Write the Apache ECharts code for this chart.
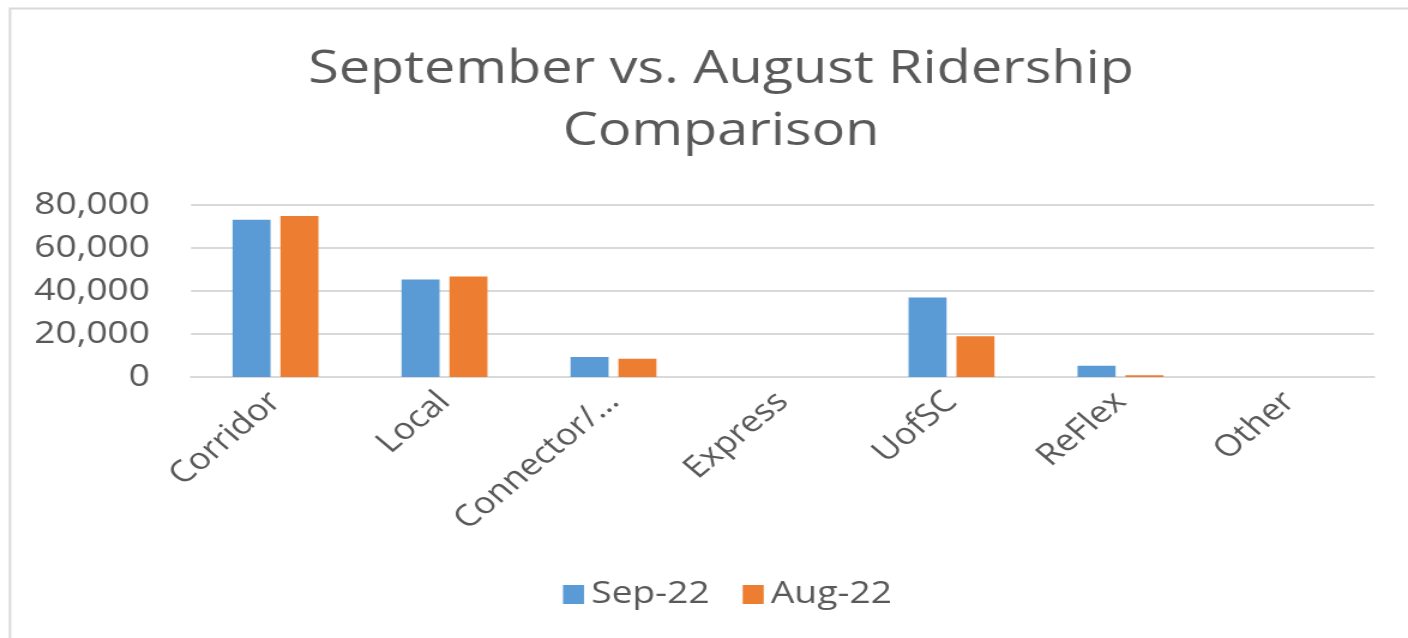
<!DOCTYPE html>
<html>
<head>
<meta charset="utf-8">
<script src="https://cdn.jsdelivr.net/npm/echarts@6/dist/echarts.min.js"></script>
<style>
html,body{margin:0;padding:0;background:#fff;overflow:hidden;}
#wrap{width:1408px;height:638px;overflow:hidden;}
#chart{width:1174px;height:638px;transform:scaleX(1.1993);transform-origin:0 0;}
</style>
</head>
<body>
<div id="wrap"><div id="chart"></div></div>
<script>
const categories = ['Corridor', 'Local', 'Connector/ Flex', 'Express', 'UofSC', 'ReFlex', 'Other'];
const sep22 = [73100, 45300, 9300, 0, 37000, 5200, 0];
const aug22 = [74900, 46700, 8500, 0, 19000, 800, 0];
const yTicks = [0, 20000, 40000, 60000, 80000];
const seriesNames = ['Sep-22', 'Aug-22'];
const titleText = 'September vs. August Ridership\nComparison';

const S = 1.1993; // horizontal stretch of the reference picture
const FONT = 'Open Sans';
const TXT = '#595959';
const chart = echarts.init(document.getElementById('chart'), null, {renderer: 'canvas', width: 1174, height: 638});
chart.setOption({
  animation: false,
  backgroundColor: '#ffffff',
  color: ['#5b9bd5', '#ed7d31'],
  graphic: [{
    type: 'rect', left: 7 / S, top: 6, silent: true,
    shape: {width: 1300, height: 700},
    style: {fill: 'none', stroke: '#d9d9d9', lineWidth: 2}
  }],
  title: {
    text: titleText,
    left: 715 / S, top: 34, textAlign: 'center',
    textStyle: {fontFamily: FONT, fontSize: 46.5, fontWeight: 'normal', color: TXT, lineHeight: 62}
  },
  legend: {
    data: seriesNames,
    left: 557 / S, top: 574,
    itemWidth: 21 / S, itemHeight: 19, itemGap: 33 / S,
    icon: 'rect',
    textStyle: {fontFamily: FONT, fontSize: 31, color: TXT, padding: [0, 0, 0, 1]}
  },
  grid: {left: 191 / S, right: 34 / S, top: 205, bottom: 261, containLabel: false},
  xAxis: {
    type: 'category',
    data: categories,
    axisTick: {show: false},
    axisLine: {lineStyle: {color: '#d9d9d9', width: 2}},
    axisLabel: {
      interval: 0, rotate: 45, margin: 20,
      fontFamily: FONT, fontSize: 30, color: TXT,
      formatter: v => v.length > 11 ? v.slice(0, 10) + '…' : v
    }
  },
  yAxis: {
    type: 'value',
    min: yTicks[0], max: yTicks[yTicks.length - 1], interval: 20000,
    axisLine: {show: false}, axisTick: {show: false},
    splitLine: {lineStyle: {color: '#d9d9d9', width: 2}},
    axisLabel: {
      margin: 41 / S, fontFamily: FONT, fontSize: 31, color: TXT,
      formatter: v => v.toLocaleString('en-US')
    }
  },
  series: [
    {name: seriesNames[0], type: 'bar', data: sep22, barWidth: 38 / S, barGap: '26%'},
    {name: seriesNames[1], type: 'bar', data: aug22, barWidth: 38 / S, barGap: '26%'}
  ]
});
</script>
</body>
</html>
